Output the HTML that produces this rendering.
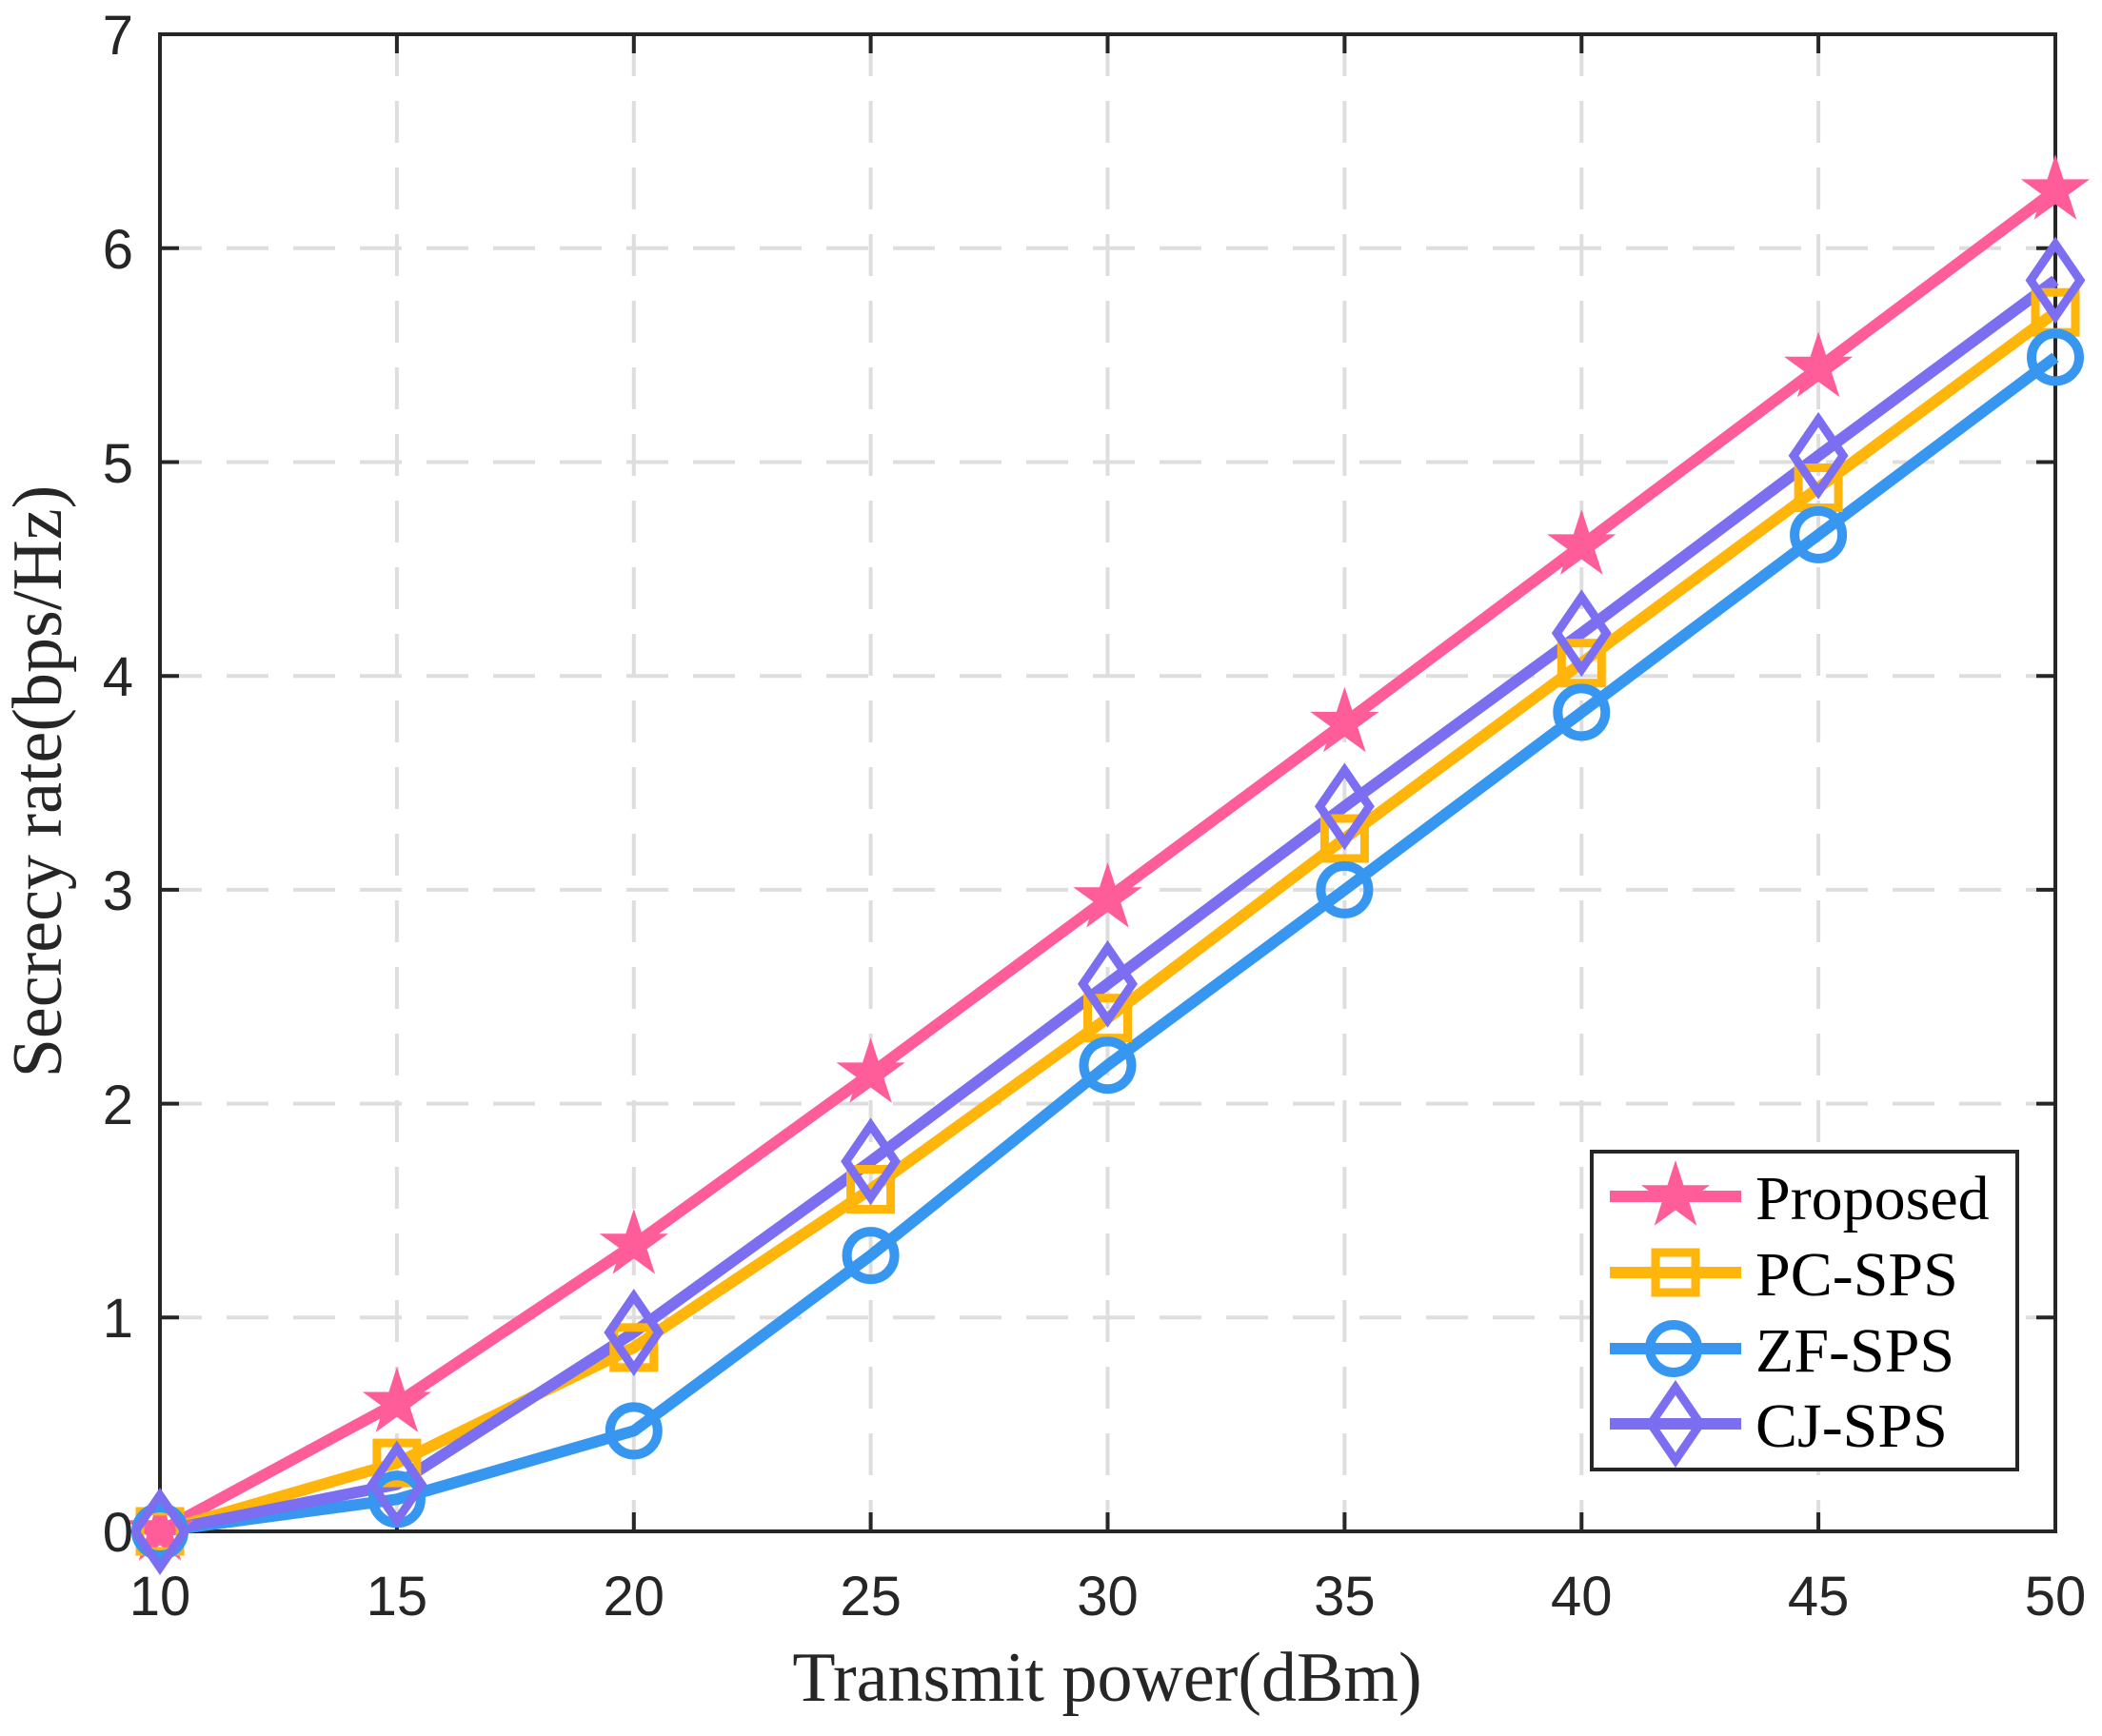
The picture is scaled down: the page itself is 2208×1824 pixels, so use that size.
<!DOCTYPE html>
<html><head><meta charset="utf-8"><style>html,body{margin:0;padding:0;background:#fff}</style></head>
<body>
<svg width="2208" height="1819" viewBox="0 0 2208 1819" xmlns="http://www.w3.org/2000/svg">
<defs>
<polygon id="star" points="0,-38 8.5,-11.7 36.1,-11.7 13.8,4.5 22.3,30.7 0,14.5 -22.3,30.7 -13.8,4.5 -36.1,-11.7 -8.5,-11.7" fill="#FF5C9A"/>
<rect id="sq" x="-21" y="-21" width="42" height="42" fill="none" stroke="#FFB50A" stroke-width="9"/>
<circle id="ci" r="25" fill="none" stroke="#3796F0" stroke-width="10"/>
<polygon id="di" points="0,-38 26,0 0,38 -26,0" fill="none" stroke="#7B6EF0" stroke-width="9"/>
</defs>
<g stroke="#dedede" stroke-width="4" stroke-dasharray="44,26">
<line x1="416.9" y1="36" x2="416.9" y2="1609"/><line x1="665.8" y1="36" x2="665.8" y2="1609"/>
<line x1="914.6" y1="36" x2="914.6" y2="1609"/><line x1="1163.5" y1="36" x2="1163.5" y2="1609"/>
<line x1="1412.4" y1="36" x2="1412.4" y2="1609"/><line x1="1661.3" y1="36" x2="1661.3" y2="1609"/>
<line x1="1910.1" y1="36" x2="1910.1" y2="1609"/>
<line x1="168" y1="1384.3" x2="2159" y2="1384.3"/><line x1="168" y1="1159.6" x2="2159" y2="1159.6"/>
<line x1="168" y1="934.9" x2="2159" y2="934.9"/><line x1="168" y1="710.2" x2="2159" y2="710.2"/>
<line x1="168" y1="485.5" x2="2159" y2="485.5"/><line x1="168" y1="260.8" x2="2159" y2="260.8"/>
</g>
<g stroke="#262626" stroke-width="4" fill="none">
<rect x="168" y="36" width="1991" height="1573"/>
<path d="M416.9 1609v-20M665.8 1609v-20M914.6 1609v-20M1163.5 1609v-20M1412.4 1609v-20M1661.3 1609v-20M1910.1 1609v-20
M416.9 36v20M665.8 36v20M914.6 36v20M1163.5 36v20M1412.4 36v20M1661.3 36v20M1910.1 36v20
M168 1384.3h20M168 1159.6h20M168 934.9h20M168 710.2h20M168 485.5h20M168 260.8h20
M2159 1384.3h-20M2159 1159.6h-20M2159 934.9h-20M2159 710.2h-20M2159 485.5h-20M2159 260.8h-20"/>
</g>
<g fill="none" stroke-width="12" stroke-linejoin="round">
<polyline stroke="#FF5C9A" points="168,1609 416.9,1474.2 665.8,1307.9 914.6,1128.1 1163.5,943.9 1412.4,759.6 1661.3,573.1 1910.1,386.5 2159,200.1"/>
<polyline stroke="#FFB50A" points="168,1609 416.9,1537.1 665.8,1415.8 914.6,1249.5 1163.5,1069.7 1412.4,881 1661.3,696.7 1910.1,512.5 2159,328.2"/>
<polyline stroke="#3796F0" points="168,1609 416.9,1575.3 665.8,1503.4 914.6,1319.1 1163.5,1119.2 1412.4,934.9 1661.3,748.4 1910.1,561.9 2159,375.4"/>
<polyline stroke="#7B6EF0" points="168,1609 416.9,1559.6 665.8,1400 914.6,1220.3 1163.5,1033.8 1412.4,847.3 1661.3,665.3 1910.1,478.8 2159,294.5"/>
</g>
<g>
<use href="#star" x="168" y="1609"/><use href="#star" x="416.9" y="1474.2"/><use href="#star" x="665.8" y="1307.9"/><use href="#star" x="914.6" y="1128.1"/><use href="#star" x="1163.5" y="943.9"/><use href="#star" x="1412.4" y="759.6"/><use href="#star" x="1661.3" y="573.1"/><use href="#star" x="1910.1" y="386.5"/><use href="#star" x="2159" y="200.1"/>
<use href="#sq" x="168" y="1609"/><use href="#sq" x="416.9" y="1537.1"/><use href="#sq" x="665.8" y="1415.8"/><use href="#sq" x="914.6" y="1249.5"/><use href="#sq" x="1163.5" y="1069.7"/><use href="#sq" x="1412.4" y="881"/><use href="#sq" x="1661.3" y="696.7"/><use href="#sq" x="1910.1" y="512.5"/><use href="#sq" x="2159" y="328.2"/>
<use href="#ci" x="168" y="1609"/><use href="#ci" x="416.9" y="1575.3"/><use href="#ci" x="665.8" y="1503.4"/><use href="#ci" x="914.6" y="1319.1"/><use href="#ci" x="1163.5" y="1119.2"/><use href="#ci" x="1412.4" y="934.9"/><use href="#ci" x="1661.3" y="748.4"/><use href="#ci" x="1910.1" y="561.9"/><use href="#ci" x="2159" y="375.4"/>
<use href="#di" x="168" y="1609"/><use href="#di" x="416.9" y="1559.6"/><use href="#di" x="665.8" y="1400"/><use href="#di" x="914.6" y="1220.3"/><use href="#di" x="1163.5" y="1033.8"/><use href="#di" x="1412.4" y="847.3"/><use href="#di" x="1661.3" y="665.3"/><use href="#di" x="1910.1" y="478.8"/><use href="#di" x="2159" y="294.5"/>
</g>
<g font-family="Liberation Sans, Arial, sans-serif" font-size="58" fill="#262626">
<g text-anchor="middle">
<text x="168" y="1697">10</text><text x="416.9" y="1697">15</text><text x="665.8" y="1697">20</text><text x="914.6" y="1697">25</text><text x="1163.5" y="1697">30</text><text x="1412.4" y="1697">35</text><text x="1661.3" y="1697">40</text><text x="1910.1" y="1697">45</text><text x="2159" y="1697">50</text>
</g>
<g text-anchor="end">
<text x="140" y="1630">0</text><text x="140" y="1405">1</text><text x="140" y="1181">2</text><text x="140" y="956">3</text><text x="140" y="731">4</text><text x="140" y="507">5</text><text x="140" y="282">6</text><text x="140" y="57">7</text>
</g>
</g>
<g font-family="Liberation Serif, 'Times New Roman', serif" font-size="74" fill="#262626" text-anchor="middle">
<text x="1163" y="1787">Transmit power(dBm)</text>
<text transform="translate(64,821) rotate(-90)">Secrecy rate(bps/Hz)</text>
</g>
<rect x="1672" y="1210" width="447" height="334" fill="#fff" stroke="#262626" stroke-width="4"/>
<g stroke-width="12">
<line x1="1691" y1="1257" x2="1829" y2="1257" stroke="#FF5C9A"/>
<line x1="1691" y1="1337" x2="1829" y2="1337" stroke="#FFB50A"/>
<line x1="1691" y1="1417" x2="1829" y2="1417" stroke="#3796F0"/>
<line x1="1691" y1="1496" x2="1829" y2="1496" stroke="#7B6EF0"/>
</g>
<use href="#star" x="1760" y="1257"/><use href="#sq" x="1760" y="1337"/><use href="#ci" x="1758" y="1417"/><use href="#di" x="1760" y="1496"/>
<g font-family="Liberation Serif, 'Times New Roman', serif" font-size="66" fill="#000">
<text x="1844" y="1281">Proposed</text>
<text x="1844" y="1361">PC-SPS</text>
<text x="1844" y="1441">ZF-SPS</text>
<text x="1844" y="1520">CJ-SPS</text>
</g>
</svg>
</body></html>
